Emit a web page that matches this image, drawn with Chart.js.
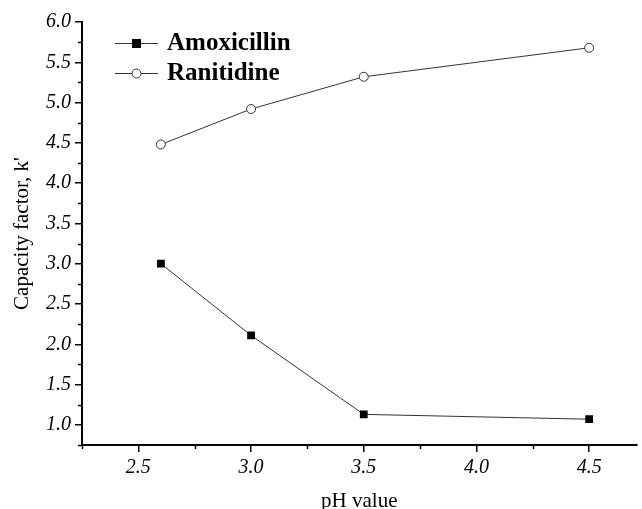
<!DOCTYPE html>
<html>
<head>
<meta charset="utf-8">
<script src="https://cdn.jsdelivr.net/npm/chart.js@4"></script>
<style>
html,body{margin:0;padding:0;background:#fff;overflow:hidden;}
#wrap{width:642px;height:509px;position:relative;}
</style>
</head>
<body>
<div id="wrap"><canvas id="c" width="642" height="509"></canvas></div>
<script>
const phValues = [2.6, 3.0, 3.5, 4.5];
const amoxicillin = [3.0, 2.11, 1.13, 1.07];
const ranitidine = [4.48, 4.92, 5.32, 5.68];
const xTickValues = [2.5, 3.0, 3.5, 4.0, 4.5];
const yTickValues = [1.0, 1.5, 2.0, 2.5, 3.0, 3.5, 4.0, 4.5, 5.0, 5.5, 6.0];
const xMinorTicks = [2.25, 2.75, 3.25, 3.75, 4.25];
const yMinorTicks = [0.75, 1.25, 1.75, 2.25, 2.75, 3.25, 3.75, 4.25, 4.75, 5.25, 5.75];
const seriesNames = ['Amoxicillin', 'Ranitidine'];

const serif = '"Liberation Serif", "Times New Roman", serif';

const minorTickPlugin = {
  id: 'minorTicks',
  afterDraw(chart) {
    const ctx = chart.ctx;
    const xs = chart.scales.x, ys = chart.scales.y;
    ctx.save();
    ctx.strokeStyle = '#000';
    ctx.lineWidth = 1.5;
    ctx.beginPath();
    xMinorTicks.forEach(v => {
      const px = Math.round(xs.getPixelForValue(v)) + 0.5;
      ctx.moveTo(px, xs.top); ctx.lineTo(px, xs.top + 4);
    });
    yMinorTicks.forEach(v => {
      const py = Math.round(ys.getPixelForValue(v)) + 0.5;
      ctx.moveTo(ys.right, py); ctx.lineTo(ys.right - 4, py);
    });
    ctx.stroke();
    ctx.restore();
  }
};

const legendPlugin = {
  id: 'customLegend',
  afterDraw(chart) {
    const ctx = chart.ctx;
    ctx.save();
    const rows = [43, 73];
    chart.data.datasets.forEach((ds, i) => {
      const y = rows[i];
      ctx.strokeStyle = '#333';
      ctx.lineWidth = 1;
      ctx.beginPath();
      ctx.moveTo(115, y + 0.5); ctx.lineTo(158, y + 0.5);
      ctx.stroke();
      const cx = 136.5;
      if (ds.pointStyle === 'rect') {
        ctx.fillStyle = '#000';
        ctx.fillRect(cx - 4.5, y - 4, 9, 9);
      } else {
        ctx.fillStyle = '#fff';
        ctx.beginPath();
        ctx.arc(cx, y + 0.5, 4.5, 0, Math.PI * 2);
        ctx.fill();
        ctx.strokeStyle = '#333';
        ctx.stroke();
      }
      ctx.fillStyle = '#000';
      ctx.font = 'bold 25px ' + serif;
      ctx.textBaseline = 'middle';
      ctx.textAlign = 'left';
      ctx.fillText(ds.label, 167, y + 1);
    });
    ctx.restore();
  }
};

new Chart(document.getElementById('c'), {
  type: 'line',
  data: {
    datasets: [
      {
        label: seriesNames[0],
        data: phValues.map((x, i) => ({x, y: amoxicillin[i]})),
        borderColor: '#333', borderWidth: 1,
        pointStyle: 'rect', pointRadius: 5.5,
        pointBackgroundColor: '#000', pointBorderColor: '#000', pointBorderWidth: 0,
        tension: 0
      },
      {
        label: seriesNames[1],
        data: phValues.map((x, i) => ({x, y: ranitidine[i]})),
        borderColor: '#333', borderWidth: 1,
        pointStyle: 'circle', pointRadius: 4.5,
        pointBackgroundColor: '#fff', pointBorderColor: '#333', pointBorderWidth: 1,
        tension: 0
      }
    ]
  },
  options: {
    responsive: false,
    animation: false,
    events: [],
    layout: { padding: { top: 22, right: 0, left: 0, bottom: 0 } },
    plugins: { legend: { display: false }, tooltip: { enabled: false } },
    scales: {
      x: {
        type: 'linear',
        min: 2.25, max: 4.71,
        afterBuildTicks: s => { s.ticks = xTickValues.map(v => ({value: v})); },
        afterFit: s => { s.height = 64; },
        ticks: {
          callback: v => Number(v).toFixed(1),
          color: '#000',
          font: { family: serif, size: 20, style: 'italic' },
          padding: 4, maxRotation: 0, autoSkip: false
        },
        grid: { drawOnChartArea: false, drawTicks: true, tickLength: 7, color: '#000', lineWidth: 1.5 },
        border: { display: true, color: '#000', width: 2 },
        title: {
          display: true, text: 'pH value', color: '#000',
          font: { family: serif, size: 21 }, padding: { top: 19, bottom: -5 }
        }
      },
      y: {
        type: 'linear',
        min: 0.75, max: 6.0,
        afterBuildTicks: s => { s.ticks = yTickValues.map(v => ({value: v})); },
        afterFit: s => { s.width = 82; },
        ticks: {
          callback: v => Number(v).toFixed(1),
          color: '#000',
          font: { family: serif, size: 20, style: 'italic' },
          padding: 4, autoSkip: false
        },
        grid: { drawOnChartArea: false, drawTicks: true, tickLength: 7, color: '#000', lineWidth: 1.5 },
        border: { display: true, color: '#000', width: 2 },
        title: {
          display: true, text: "Capacity factor, k'", color: '#000',
          font: { family: serif, size: 21 }, padding: { top: 10, bottom: 0 }
        }
      }
    }
  },
  plugins: [minorTickPlugin, legendPlugin]
});
</script>
</body>
</html>
